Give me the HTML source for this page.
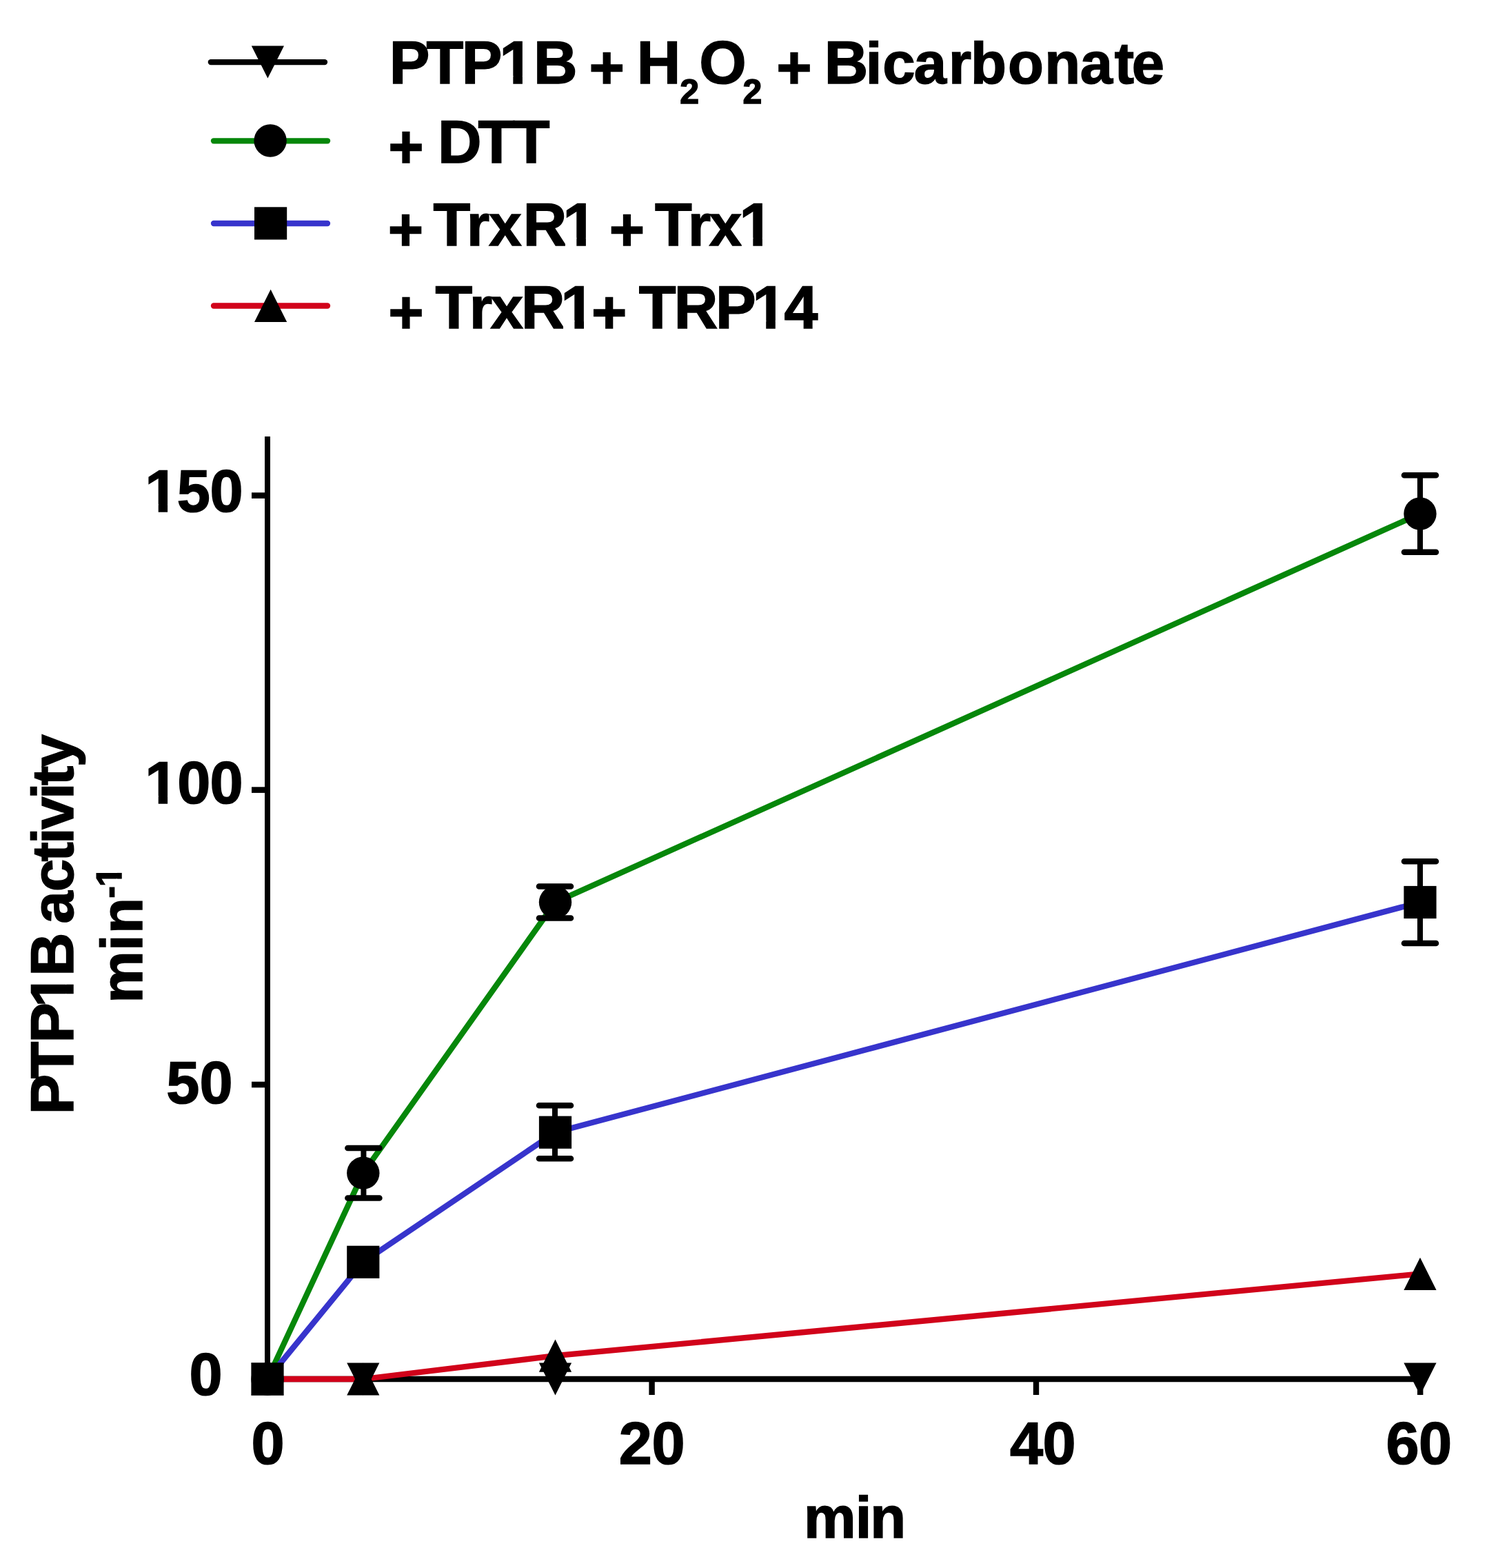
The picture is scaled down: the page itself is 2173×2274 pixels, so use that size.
<!DOCTYPE html>
<html><head><meta charset="utf-8"><title>PTP1B activity</title>
<style>
html,body{margin:0;padding:0;background:#fff;}
body{width:2173px;height:2274px;overflow:hidden;}
svg{display:block;}
text{white-space:pre;}
</style></head>
<body>
<svg width="2173" height="2274" viewBox="0 0 2173 2274">
<rect x="0" y="0" width="2173" height="2274" fill="#fff"/>
<g stroke="#000" stroke-width="8" fill="none">
<line x1="388.0" y1="633" x2="388.0" y2="2004"/>
<line x1="384" y1="2000.0" x2="2064" y2="2000.0"/>
</g>
<g stroke="#000" stroke-width="8.6" fill="none">
<line x1="365" y1="718.6" x2="386" y2="718.6"/>
<line x1="365" y1="1145.6" x2="386" y2="1145.6"/>
<line x1="365" y1="1573.0" x2="386" y2="1573.0"/>
<line x1="365" y1="2000.0" x2="386" y2="2000.0"/>
</g>
<g stroke="#000" stroke-width="8.4" fill="none">
<line x1="388" y1="2002" x2="388" y2="2023"/>
<line x1="945.6" y1="2002" x2="945.6" y2="2023"/>
<line x1="1503.0" y1="2002" x2="1503.0" y2="2023"/>
<line x1="2060.2" y1="2002" x2="2060.2" y2="2023"/>
</g>
<polyline points="388.0,2000.0 526.8,2000.0 805.5,2000.0 2060.0,2000.0" fill="none" stroke="#000" stroke-width="8.3" stroke-linejoin="round"/>
<polyline points="388.0,2000.0 526.8,1701.2 805.5,1308.5 2060.0,745.0" fill="none" stroke="#06870a" stroke-width="8.3" stroke-linejoin="round"/>
<polyline points="388.0,2000.0 526.8,1830.3 805.5,1642.2 2060.0,1308.5" fill="none" stroke="#3734cc" stroke-width="8.3" stroke-linejoin="round"/>
<polyline points="388.0,2000.0 526.8,2000.0 805.5,1966.2 2060.0,1847.4" fill="none" stroke="#d1021a" stroke-width="8.3" stroke-linejoin="round"/>
<path d="M504.4,1665.0H550.4M504.4,1737.5H550.4" stroke="#000" stroke-width="8.6" stroke-linecap="round" fill="none"/>
<path d="M527.4,1665.0V1737.5" stroke="#000" stroke-width="8" fill="none"/>
<path d="M782.0,1285.5H828.0M782.0,1331.5H828.0" stroke="#000" stroke-width="8.6" stroke-linecap="round" fill="none"/>
<path d="M805.0,1285.5V1331.5" stroke="#000" stroke-width="8" fill="none"/>
<path d="M2037.0,689.3H2083.0M2037.0,800.8H2083.0" stroke="#000" stroke-width="8.6" stroke-linecap="round" fill="none"/>
<path d="M2060.0,689.3V800.8" stroke="#000" stroke-width="8" fill="none"/>
<path d="M782.0,1603.2H828.0M782.0,1680.3H828.0" stroke="#000" stroke-width="8.6" stroke-linecap="round" fill="none"/>
<path d="M805.0,1603.2V1680.3" stroke="#000" stroke-width="8" fill="none"/>
<path d="M2037.0,1249.3H2083.0M2037.0,1368.0H2083.0" stroke="#000" stroke-width="8.6" stroke-linecap="round" fill="none"/>
<path d="M2060.0,1249.3V1368.0" stroke="#000" stroke-width="8" fill="none"/>
<g fill="#000">
<polygon points="388.0,2023.6 411.6,1976.4 364.4,1976.4"/>
<polygon points="526.8,2023.6 550.4,1976.4 503.2,1976.4"/>
<polygon points="805.5,2023.6 829.1,1976.4 781.9,1976.4"/>
<polygon points="2060.0,2023.6 2083.6,1976.4 2036.4,1976.4"/>
<circle cx="388.0" cy="2000.0" r="23.70"/>
<circle cx="526.8" cy="1701.2" r="23.70"/>
<circle cx="805.5" cy="1308.5" r="23.70"/>
<circle cx="2060.0" cy="745.0" r="23.70"/>
<rect x="364.4" y="1976.4" width="47.2" height="47.2"/>
<rect x="503.2" y="1806.7" width="47.2" height="47.2"/>
<rect x="781.9" y="1618.6" width="47.2" height="47.2"/>
<rect x="2036.4" y="1284.9" width="47.2" height="47.2"/>
<polygon points="388.0,1976.4 411.6,2023.6 364.4,2023.6"/>
<polygon points="526.8,1976.4 550.4,2023.6 503.2,2023.6"/>
<polygon points="805.5,1942.6 829.1,1989.8 781.9,1989.8"/>
<polygon points="2060.0,1823.8 2083.6,1871.0 2036.4,1871.0"/>
</g>
<line x1="305.8" y1="90.1" x2="471.0" y2="90.1" stroke="#000" stroke-width="8.3" stroke-linecap="round"/>
<line x1="310.0" y1="204.3" x2="475.0" y2="204.3" stroke="#06870a" stroke-width="8.3" stroke-linecap="round"/>
<line x1="310.0" y1="324.0" x2="475.0" y2="324.0" stroke="#3734cc" stroke-width="8.3" stroke-linecap="round"/>
<line x1="310.0" y1="443.5" x2="475.0" y2="443.5" stroke="#d1021a" stroke-width="8.3" stroke-linecap="round"/>
<g fill="#000">
<polygon points="388.4,113.6 412.0,66.4 364.8,66.4"/>
<circle cx="392.1" cy="204.0" r="23.70"/>
<rect x="369.0" y="300.3" width="47.2" height="47.2"/>
<polygon points="392.6,419.7 416.2,466.9 369.0,466.9"/>
</g>
<g font-family="'Liberation Sans', sans-serif" font-weight="bold" font-size="88" fill="#000" stroke="#000" stroke-width="1.5" stroke-linejoin="miter" text-rendering="geometricPrecision" style="font-kerning:none">
<text><tspan x="210.3 256.7 304.4" y="742.1" font-size="86.5">150</tspan></text>
<text><tspan x="210.3 257.3 304.4" y="1165.1" font-size="86.5">100</tspan></text>
<text><tspan x="241.2 289.5" y="1600.1" font-size="86.5">50</tspan></text>
<text><tspan x="274.5" y="2023.3" font-size="86.5">0</tspan></text>
<text><tspan x="364.4" y="2123.3" font-size="86.5">0</tspan></text>
<text><tspan x="897.8 945.6" y="2122.5" font-size="86.5">20</tspan></text>
<text><tspan x="1465.0 1512.5" y="2122.5" font-size="86.5">40</tspan></text>
<text><tspan x="2010.4 2058.0" y="2122.5" font-size="86.5">60</tspan></text>
<text><tspan x="1165.9 1240.8 1262.2" y="2229.8" font-size="85">min</tspan></text>
<text><tspan x="564.7 618.5 669.8 724.5 773.9" y="121.1">PTP1B</tspan> <tspan x="854.4" y="128.4">+</tspan> <tspan x="923.8" y="121.1">H</tspan><tspan x="986.3" y="150.0" font-size="50">2</tspan><tspan x="1014.2" y="121.1">O</tspan><tspan x="1077.6" y="150.0" font-size="50">2</tspan> <tspan x="1126.3" y="128.4">+</tspan> <tspan x="1195.7" y="121.1">B</tspan><tspan x="1255.8 1280.3 1325.8 1376.0 1407.9 1462.0 1515.2 1566.7 1616.7 1641.8" y="121.1" font-size="85">icarbonate</tspan></text>
<text><tspan x="563.2" y="243.2">+</tspan> <tspan x="634.9 693.6 743.7" y="235.9">DTT</tspan></text>
<text><tspan x="562.8" y="363.2">+</tspan> <tspan x="628.6" y="355.9">T</tspan><tspan x="677.1 709.3" y="355.9" font-size="85">rx</tspan><tspan x="758.8 816.5" y="355.9">R1</tspan> <tspan x="883.7" y="363.2">+</tspan> <tspan x="950.1" y="355.9">T</tspan><tspan x="997.9 1028.7" y="355.9" font-size="85">rx</tspan><tspan x="1072.5" y="355.9">1</tspan></text>
<text><tspan x="563.2" y="483.2">+</tspan> <tspan x="631.5" y="475.9">T</tspan><tspan x="681.1 711.5" y="475.9" font-size="85">rx</tspan><tspan x="755.9 813.6" y="475.9">R1</tspan><tspan x="858.1" y="483.2">+</tspan> <tspan x="926.7 977.7 1038.0 1091.4 1137.6" y="475.9">TRP14</tspan></text>
<g transform="translate(106.4,1611.5) rotate(-90)"><text><tspan x="-5.1 47.3 98.8 150.4 195.5" y="0.0">PTP1B</tspan> <tspan x="272.1 318.4 362.0 387.5 408.7 452.5 472.5 498.9" y="0.0" font-size="85">activity</tspan></text><g fill="#fff" stroke="none"><rect x="153.83" y="-11.13" width="16.40" height="13.28"/><rect x="183.80" y="-11.13" width="15.28" height="13.28"/></g></g>
<g transform="translate(205.5,1449.9) rotate(-90)"><text><tspan x="-4.9 71.0 96.0" y="0.0" font-size="85">min</tspan><tspan x="147.5 164.0" y="-29.3" font-size="52">-1</tspan></text><g fill="#fff" stroke="none"><rect x="165.10" y="-36.76" width="10.26" height="9.61"/><rect x="184.00" y="-36.76" width="9.60" height="9.61"/></g></g>
<g fill="#fff" stroke="none"><rect x="213.59" y="731.12" width="16.14" height="13.13"/><rect x="243.10" y="731.12" width="15.04" height="13.13"/><rect x="213.59" y="1154.12" width="16.14" height="13.13"/><rect x="243.10" y="1154.12" width="15.04" height="13.13"/><rect x="727.93" y="109.97" width="16.40" height="13.28"/><rect x="757.90" y="109.97" width="15.28" height="13.28"/><rect x="819.93" y="344.77" width="16.40" height="13.28"/><rect x="849.90" y="344.77" width="15.28" height="13.28"/><rect x="1075.93" y="344.77" width="16.40" height="13.28"/><rect x="1105.90" y="344.77" width="15.28" height="13.28"/><rect x="817.03" y="464.77" width="16.40" height="13.28"/><rect x="847.00" y="464.77" width="15.28" height="13.28"/><rect x="1094.83" y="464.77" width="16.40" height="13.28"/><rect x="1124.80" y="464.77" width="15.28" height="13.28"/></g>
</g>
</svg>
</body></html>
